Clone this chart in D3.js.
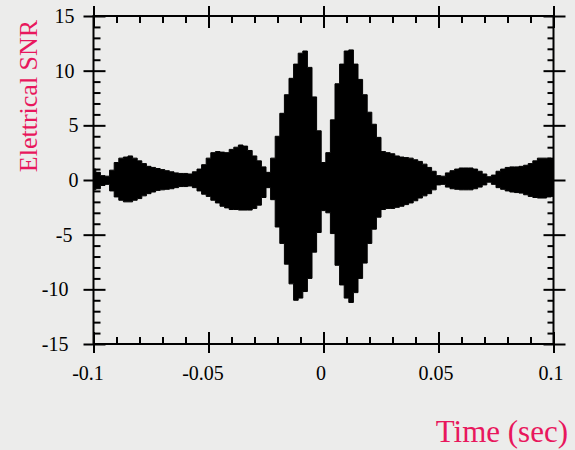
<!DOCTYPE html>
<html><head><meta charset="utf-8">
<script src="https://cdn.jsdelivr.net/npm/d3@7"></script>
<style>
html,body{margin:0;padding:0;background:#ececeb;}
svg{display:block;}
</style></head>
<body>
<svg id="c" width="575" height="450"></svg>
<script>
// Time samples every 0.002 s from -0.1 to 0.1
const timeStart = -0.1, timeStep = 0.002;
const upperEnvelope = [
 1.0,0.7,0.4,0.35,0.9,1.6,2.0,2.1,2.2,2.0,
 1.75,1.5,1.25,1.15,1.05,0.95,0.85,0.75,0.65,0.6,
 0.6,0.55,0.75,1.0,1.4,2.0,2.5,2.6,2.55,2.5,
 2.8,3.0,3.2,3.1,2.7,2.2,1.75,1.2,0.7,2.0,
 4.0,6.1,7.8,9.3,10.6,11.6,11.8,10.3,7.6,4.5,
 1.6,2.5,5.5,8.8,10.6,11.8,11.9,10.6,9.2,7.8,
 6.2,5.1,3.9,2.6,2.5,2.4,2.2,2.1,2.05,2.0,
 1.85,1.7,1.45,1.15,0.8,0.4,0.35,0.65,0.85,1.0,
 1.1,1.1,1.1,1.0,0.8,0.55,0.3,0.45,0.8,1.0,
 1.15,1.2,1.2,1.25,1.35,1.5,1.75,2.0,2.0,2.0,1.9
];
const lowerEnvelope = [
 -0.9,-0.8,-0.5,-0.4,-1.0,-1.55,-1.85,-2.0,-2.0,-1.85,
 -1.7,-1.45,-1.25,-1.1,-0.95,-0.9,-0.85,-0.8,-0.7,-0.6,
 -0.6,-0.55,-0.7,-1.0,-1.3,-1.5,-1.85,-2.1,-2.4,-2.55,
 -2.7,-2.7,-2.75,-2.75,-2.75,-2.6,-2.3,-1.6,-0.7,-1.8,
 -4.3,-5.8,-7.7,-9.5,-11.0,-10.8,-10.2,-9.0,-6.6,-4.8,
 -2.8,-3.0,-4.9,-7.8,-9.6,-10.8,-11.2,-10.3,-9.0,-7.6,
 -5.8,-4.5,-3.4,-2.7,-2.6,-2.6,-2.5,-2.4,-2.25,-2.1,
 -1.9,-1.65,-1.45,-1.25,-0.9,-0.45,-0.4,-0.65,-0.8,-0.85,
 -0.9,-0.9,-0.9,-0.8,-0.65,-0.45,-0.2,-0.4,-0.7,-0.85,
 -1.0,-1.1,-1.15,-1.2,-1.35,-1.5,-1.6,-1.65,-1.65,-1.55,-1.5
];
const xMajorTicks = [-0.1,-0.05,0,0.05,0.1];
const xTickLabels = ["-0.1","-0.05","0","0.05","0.1"];
const xMinorTicks = [-0.09,-0.08,-0.07,-0.06,-0.04,-0.03,-0.02,-0.01,0.01,0.02,0.03,0.04,0.06,0.07,0.08,0.09];
const yMajorTicks = [-15,-10,-5,0,5,10,15];
const yTickLabels = ["-15","-10","-5","0","5","10","15"];
const yMinorTicks = d3.range(-15,16).filter(v => v % 5 !== 0);
const xTitle = "Time (sec)";
const yTitle = "Elettrical SNR";

const svg = d3.select("#c");
const L = 93.5, R = 553.5, T = 16, B = 344;
const x = d3.scaleLinear().domain([-0.1,0.1]).range([L,R]);
const y = d3.scaleLinear().domain([-15,15]).range([B,T]);
const serif = "'Liberation Serif','Times New Roman',serif";
const titleColor = "#e8175d";

const data = upperEnvelope.map((u,i) => ({t: timeStart + i*timeStep, hi: u, lo: lowerEnvelope[i]}));

// signal
const area = d3.area().curve(d3.curveStep).x(d => x(d.t)).y0(d => y(d.lo)).y1(d => y(d.hi));
svg.append("path").datum(data).attr("d", area)
  .attr("fill","#000").attr("stroke","#000").attr("stroke-width",1);

function styleAxis(g){
  g.selectAll("path.domain").remove();
  g.selectAll("line").attr("stroke","#000").attr("stroke-width",2);
}
const noLab = () => "";

// frame
svg.append("rect").attr("x",L).attr("y",T).attr("width",R-L).attr("height",B-T)
  .attr("fill","none").attr("stroke","#000").attr("stroke-width",2);

// left axis
const gl = svg.append("g").attr("transform",`translate(${L},0)`);
gl.call(d3.axisLeft(y).tickValues(yMajorTicks).tickSize(10).tickPadding(11)
  .tickFormat((d,i) => yTickLabels[i])).call(styleAxis);
gl.selectAll("text").attr("font-family",serif).attr("font-size",20).attr("fill","#000")
  .attr("dx", (d,i) => { const s = yTickLabels[i]; return -(4*(s.length-1) + (s[0]==="-"?2:0)) + 6; });
svg.append("g").attr("transform",`translate(${L},0)`)
  .call(d3.axisRight(y).tickValues(yMajorTicks).tickSize(12).tickFormat(noLab)).call(styleAxis);
svg.append("g").attr("transform",`translate(${L},0)`)
  .call(d3.axisRight(y).tickValues(yMinorTicks).tickSize(7).tickFormat(noLab)).call(styleAxis);

// right axis
svg.append("g").attr("transform",`translate(${R},0)`)
  .call(d3.axisRight(y).tickValues(yMajorTicks).tickSize(12).tickFormat(noLab)).call(styleAxis);
svg.append("g").attr("transform",`translate(${R},0)`)
  .call(d3.axisLeft(y).tickValues(yMajorTicks).tickSize(10).tickFormat(noLab)).call(styleAxis);
svg.append("g").attr("transform",`translate(${R},0)`)
  .call(d3.axisLeft(y).tickValues(yMinorTicks).tickSize(6).tickFormat(noLab)).call(styleAxis);

// bottom axis
const gb = svg.append("g").attr("transform",`translate(0,${B})`);
gb.call(d3.axisBottom(x).tickValues(xMajorTicks).tickSize(9).tickPadding(13)
  .tickFormat((d,i) => xTickLabels[i])).call(styleAxis);
gb.selectAll("text").attr("font-family",serif).attr("font-size",20).attr("fill","#000")
  .attr("dx", (d,i) => xTickLabels[i][0]==="-" ? -6 : -3);
svg.append("g").attr("transform",`translate(0,${B})`)
  .call(d3.axisTop(x).tickValues(xMajorTicks).tickSize(12).tickFormat(noLab)).call(styleAxis);
svg.append("g").attr("transform",`translate(0,${B})`)
  .call(d3.axisTop(x).tickValues(xMinorTicks).tickSize(7).tickFormat(noLab)).call(styleAxis);

// top axis
svg.append("g").attr("transform",`translate(0,${T})`)
  .call(d3.axisTop(x).tickValues(xMajorTicks).tickSize(10).tickFormat(noLab)).call(styleAxis);
svg.append("g").attr("transform",`translate(0,${T})`)
  .call(d3.axisBottom(x).tickValues(xMajorTicks).tickSize(12).tickFormat(noLab)).call(styleAxis);
svg.append("g").attr("transform",`translate(0,${T})`)
  .call(d3.axisBottom(x).tickValues(xMinorTicks).tickSize(7).tickFormat(noLab)).call(styleAxis);

// titles
svg.append("text").attr("transform","translate(37,96) rotate(-90)")
  .attr("text-anchor","middle").attr("font-family",serif).attr("font-size",26)
  .attr("fill",titleColor).text(yTitle);
svg.append("text").attr("x",568).attr("y",442).attr("text-anchor","end")
  .attr("font-family",serif).attr("font-size",31).attr("fill",titleColor).text(xTitle);
</script>
</body></html>
